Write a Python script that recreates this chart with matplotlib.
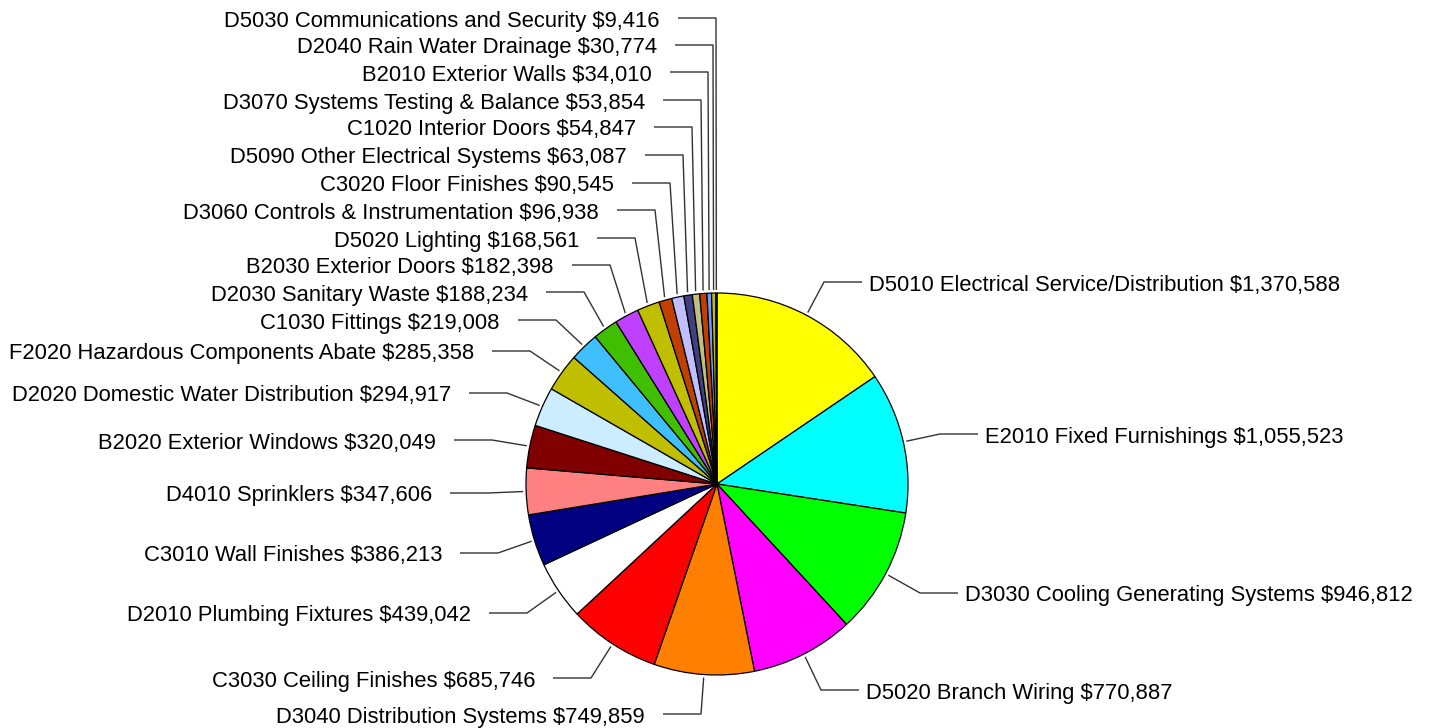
import numpy as np
import matplotlib; matplotlib.use('Agg')
import matplotlib.pyplot as plt

plt.rcParams['font.family'] = ['Liberation Sans', 'DejaVu Sans']

# slice data, clockwise from 12 o'clock
codes = ["D5010", "E2010", "D3030", "D5020", "D3040", "C3030", "D2010", "C3010",
         "D4010", "B2020", "D2020", "F2020", "C1030", "D2030", "B2030", "D5020",
         "D3060", "C3020", "D5090", "C1020", "D3070", "B2010", "D2040", "D5030"]
names = ["Electrical Service/Distribution", "Fixed Furnishings", "Cooling Generating Systems",
         "Branch Wiring", "Distribution Systems", "Ceiling Finishes", "Plumbing Fixtures",
         "Wall Finishes", "Sprinklers", "Exterior Windows", "Domestic Water Distribution",
         "Hazardous Components Abate", "Fittings", "Sanitary Waste", "Exterior Doors",
         "Lighting", "Controls & Instrumentation", "Floor Finishes", "Other Electrical Systems",
         "Interior Doors", "Systems Testing & Balance", "Exterior Walls", "Rain Water Drainage",
         "Communications and Security"]
costs = [1370588, 1055523, 946812, 770887, 749859, 685746, 439042, 386213,
         347606, 320049, 294917, 285358, 219008, 188234, 182398, 168561,
         96938, 90545, 63087, 54847, 53854, 34010, 30774, 9416]
colors = ["#FFFF00", "#00FFFF", "#00FF00", "#FF00FF", "#FF8000", "#FF0000", "#FFFFFF", "#000080",
          "#FF8080", "#800000", "#CCECFF", "#BFBF00", "#40BFFF", "#40BF00", "#BF40FF", "#BFBF00",
          "#BF4000", "#BFBFFF", "#404080", "#BFBF80", "#BF4000", "#6F9CFF", "#BFBF00", "#404000"]

# label layout (pixel coords from top): label row y, elbow x
lab_y = [282, 434, 593, 690, 714, 678, 613, 553, 493, 440, 393, 351, 320, 292,
         265, 238, 210, 183, 155, 127, 100, 72, 45, 18]
elb_x = [824, 940, 920, 821, 701, 591, 527, 498, 488, 492, 507, 530, 556, 584,
         610, 635, 655, 670, 683, 692, 701, 708, 713, 716]

W, H = 1434, 728
CX, CY, R = 717, 484, 191

fig = plt.figure(figsize=(W / 100, H / 100), dpi=100)
ax = fig.add_axes([0, 0, 1, 1])

wedges, _ = ax.pie(costs, colors=colors, startangle=90, counterclock=False,
                   center=(CX, H - CY), radius=R, frame=True,
                   wedgeprops=dict(edgecolor='black', linewidth=0.9))
ax.set_xlim(0, W); ax.set_ylim(0, H); ax.axis('off')

for i, w in enumerate(wedges):
    a = np.deg2rad((w.theta1 + w.theta2) / 2)
    sx = CX + (R + 3) * np.cos(a)
    sy = (H - CY) + (R + 3) * np.sin(a)
    ey = H - lab_y[i]
    ex = elb_x[i]
    right = np.cos(a) > 0.05
    hx = ex + 38 if right else ex - 38
    ax.plot([sx, ex, hx], [sy, ey, ey], color='#333333', lw=1.0, solid_capstyle='butt')
    txt = f"{codes[i]} {names[i]} ${costs[i]:,}"
    if right:
        ax.text(hx + 7, ey - 3, txt, ha='left', va='center', fontsize=15.8)
    else:
        ax.text(hx - 18, ey - 3, txt, ha='right', va='center', fontsize=15.8)

fig.savefig("out.png", dpi=100)
